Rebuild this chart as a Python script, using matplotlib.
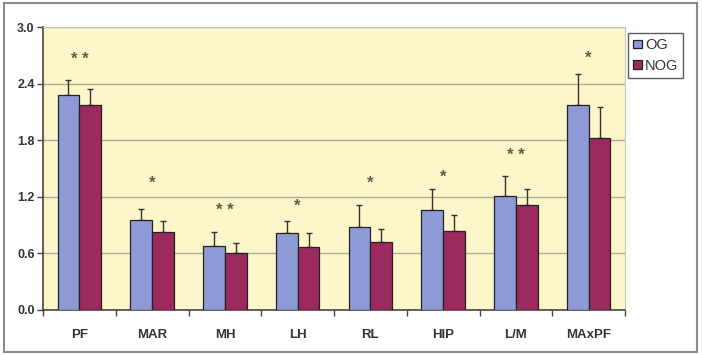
import matplotlib
matplotlib.use("Agg")
import matplotlib.pyplot as plt
import numpy as np
from matplotlib.patches import Rectangle

categories = ["PF", "MAR", "MH", "LH", "RL", "HIP", "L/M", "MAxPF"]
og_values = [2.28, 0.95, 0.68, 0.82, 0.88, 1.06, 1.21, 2.17]
og_err = [0.16, 0.12, 0.15, 0.12, 0.23, 0.22, 0.21, 0.33]
nog_values = [2.17, 0.83, 0.60, 0.67, 0.72, 0.84, 1.11, 1.82]
nog_err = [0.17, 0.11, 0.11, 0.15, 0.14, 0.17, 0.17, 0.33]
stars = ["* *", "*", "* *", "*", "*", "*", "* *", "*"]
star_y = [2.66, 1.34, 1.05, 1.10, 1.34, 1.41, 1.64, 2.67]
yticks = [0.0, 0.6, 1.2, 1.8, 2.4, 3.0]

plt.rcParams['font.family'] = ['Liberation Sans', 'DejaVu Sans']

fig = plt.figure(figsize=(7.02, 3.55), dpi=100)
W, H = 702, 355
ax = fig.add_axes([43 / W, 1 - 310 / H, (625 - 43) / W, (310 - 27) / H])

c_og = "#8E9AD6"
c_nog = "#9C2A5F"
ax.set_facecolor("#FDF6CA")

x = np.arange(len(categories))
bw = 0.3
ax.bar(x - bw / 2, og_values, bw, color=c_og, edgecolor="#222222", linewidth=0.9, label="OG", zorder=3)
ax.bar(x + bw / 2, nog_values, bw, color=c_nog, edgecolor="#222222", linewidth=0.9, label="NOG", zorder=3)
ax.errorbar(x - bw / 2, og_values, yerr=[np.zeros(len(og_err)), og_err], fmt="none",
            ecolor="#333333", elinewidth=1.0, capsize=2.5, capthick=1.0, zorder=2)
ax.errorbar(x + bw / 2, nog_values, yerr=[np.zeros(len(nog_err)), nog_err], fmt="none",
            ecolor="#333333", elinewidth=1.0, capsize=2.5, capthick=1.0, zorder=2)

for xi, s, sy in zip(x, stars, star_y):
    ax.text(xi, sy, s, ha="center", va="center", fontsize=12, color="#5E5D40", fontweight="bold")

ax.set_xlim(-0.5, len(categories) - 0.5)
ax.set_ylim(0, 3.0)
ax.set_yticks(yticks)
ax.set_yticklabels([f"{v:.1f}" for v in yticks], fontsize=9, fontweight="bold", color="#333333")
ax.yaxis.grid(True, color="#A9AE95", linewidth=1.0, zorder=0)
ax.set_axisbelow(True)

ax.set_xticks(x)
ax.set_xticklabels(categories, fontsize=9.5, fontweight="bold", color="#333333")
ax.tick_params(axis="x", length=0, pad=14)
ax.set_xticks(np.arange(-0.5, len(categories)), minor=True)
ax.tick_params(axis="x", which="minor", length=4, width=1, color="#444444", direction="out")
ax.tick_params(axis="y", length=4, width=1, color="#444444", direction="out", pad=2)

for side in ["top", "right"]:
    ax.spines[side].set_color("#C8C8B8")
    ax.spines[side].set_linewidth(0.8)
for side in ["left", "bottom"]:
    ax.spines[side].set_color("#444444")
    ax.spines[side].set_linewidth(1.2)

leg = fig.legend(loc="upper left", bbox_to_anchor=(628 / W, 1 - 33 / H), fontsize=10.5,
                 frameon=True, fancybox=False, edgecolor="#333333", handlelength=0.6,
                 handleheight=0.5, handletextpad=0.2, borderpad=0.35, labelspacing=0.45,
                 borderaxespad=0)
leg.get_frame().set_linewidth(1.0)
for t in leg.get_texts():
    t.set_color("#333333")

fig.patches.append(Rectangle((4 / W, 3 / H), (697 - 4) / W, (352 - 3) / H, transform=fig.transFigure,
                             fill=False, edgecolor="#8A8A8A", linewidth=1.5))

fig.savefig("out.png", dpi=100)
